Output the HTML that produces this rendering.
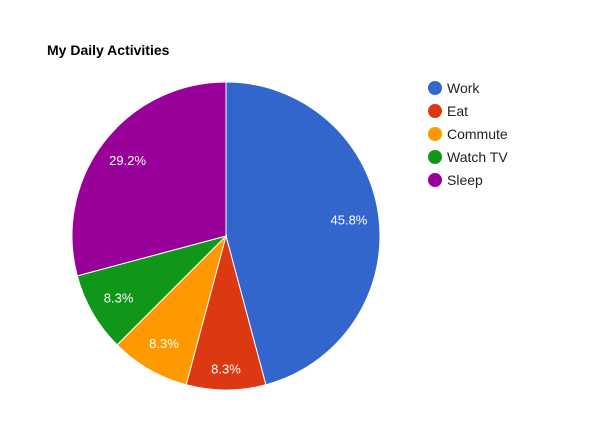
<!DOCTYPE html>
<html><head><meta charset="utf-8"><style>
body{margin:0;background:#fff;}
svg{display:block;font-family:"Liberation Sans",Arial,sans-serif;}
</style></head><body>
<svg id="chart" width="593" height="433">
<text x="47" y="55" font-size="14" font-weight="bold" fill="#000">My Daily Activities</text>
<g id="slices"></g>
<g id="labels"></g>
<g id="legend"></g>
</svg>
<script>
const categories = ["Work","Eat","Commute","Watch TV","Sleep"];
const values = [11,2,2,2,7];
const colors = ["#3366cc","#dc3912","#ff9900","#109618","#990099"];
const cx=226, cy=236, r=154;
const NS="http://www.w3.org/2000/svg";
const total = values.reduce((a,b)=>a+b,0);
const slices=document.getElementById('slices'), labels=document.getElementById('labels'), legend=document.getElementById('legend');
function pt(a,rr){return [cx+rr*Math.sin(a), cy-rr*Math.cos(a)];}
let acc=0;
values.forEach((v,i)=>{
  const a0=acc/total*2*Math.PI; acc+=v; const a1=acc/total*2*Math.PI;
  const p0=pt(a0,r), p1=pt(a1,r);
  const large=(a1-a0)>Math.PI?1:0;
  const path=document.createElementNS(NS,'path');
  path.setAttribute('d',`M${cx},${cy} L${p0[0]},${p0[1]} A${r},${r} 0 ${large} 1 ${p1[0]},${p1[1]} Z`);
  path.setAttribute('fill',colors[i]); path.setAttribute('stroke','#fff'); path.setAttribute('stroke-width','1');
  
  
  slices.appendChild(path);
  const mid=(a0+a1)/2;
  const lr = Math.abs(Math.cos(mid))>0.95 ? 133 : 124;
  const m=pt(mid,lr);
  const t=document.createElementNS(NS,'text');
  t.setAttribute('x',m[0]); t.setAttribute('y',m[1]+4.5);
  t.setAttribute('text-anchor','middle'); t.setAttribute('font-size','13'); t.setAttribute('fill','#fff');
  t.textContent=(v/total*100).toFixed(1)+'%';
  
  
  labels.appendChild(t);
  const y=88+i*23;
  const c=document.createElementNS(NS,'circle');
  c.setAttribute('cx',435); c.setAttribute('cy',y); c.setAttribute('r',7); c.setAttribute('fill',colors[i]);
  
  
  legend.appendChild(c);
  const lt=document.createElementNS(NS,'text');
  lt.setAttribute('x',447); lt.setAttribute('y',y+5); lt.setAttribute('font-size','14'); lt.setAttribute('fill','#222');
  lt.textContent=categories[i];
  
  
  legend.appendChild(lt);
});
</script>
</body></html>
